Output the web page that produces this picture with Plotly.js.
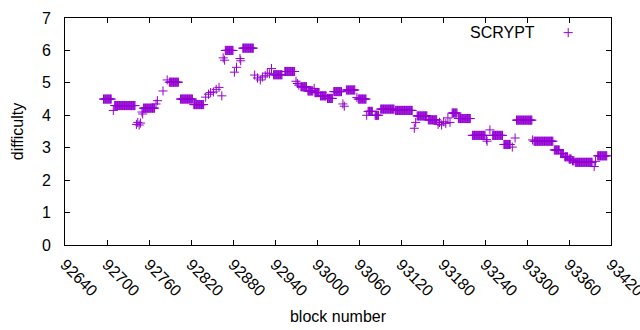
<!DOCTYPE html>
<html>
<head>
<meta charset="utf-8">
<script src="https://cdn.plot.ly/plotly-3.0.1.min.js"></script>
<style>html,body{margin:0;padding:0;background:#fff;}#chart{width:640px;height:330px;}</style>
</head>
<body>
<div id="chart"></div>
<script>
// Runs of constant difficulty: first block, last block, difficulty
var runStart = [92695,92711,92752,92789,92805,92824,92869,92894,92938,92954,92977,92987,92997,93005,93015,93024,93042,93059,93073,93083,93091,93112,93143,93159,93193,93202,93222,93251,93267,93285,93310,93339,93348,93354,93360,93365,93369,93401];
var runEnd   = [92706,92740,92768,92802,92822,92838,92880,92909,92950,92968,92985,92994,93003,93013,93022,93035,93054,93070,93079,93088,93110,93136,93157,93171,93200,93219,93240,93265,93276,93307,93337,93346,93352,93358,93363,93367,93393,93414];
var runDiff  = [4.50,4.30,4.22,5.02,4.50,4.33,6.00,6.07,5.25,5.35,4.88,4.75,4.70,4.60,4.52,4.73,4.78,4.50,4.12,4.00,4.19,4.15,3.98,3.86,4.07,3.90,3.38,3.38,3.10,3.85,3.20,2.93,2.82,2.72,2.65,2.60,2.55,2.75];
// Isolated blocks
var ptBlock = [92709,92742,92744,92746,92748,92750,92751,92770,92772,92780,92786,92841,92845,92848,92852,92856,92860,92864,92866,92868,92882,92885,92890,92891,92911,92915,92919,92922,92926,92929,92932,92935,92970,92972,92974,92996,93037,93039,93057,93071,93139,93141,93173,93175,93178,93181,93184,93187,93190,93242,93243,93247,93279,93283,93308,93396,93398];
var ptDiff  = [4.15,3.72,3.78,3.70,3.76,4.10,4.04,4.35,4.45,4.75,5.09,4.56,4.65,4.70,4.72,4.80,4.86,4.60,5.77,5.70,5.33,5.48,5.75,5.68,5.24,5.15,5.09,5.18,5.22,5.30,5.28,5.44,5.05,4.98,4.93,4.83,4.35,4.28,4.55,4.00,3.60,3.78,3.72,3.78,3.70,3.80,3.75,3.92,3.78,3.25,3.20,3.55,3.02,3.30,3.24,2.42,2.58];
var seriesName = "SCRYPT";
var xTitle = "block number";
var yTitle = "difficulty";

var pts = [];
for (var i = 0; i < runStart.length; i++) {
  for (var b = runStart[i]; b <= runEnd[i]; b++) pts.push([b, runDiff[i]]);
}
for (var j = 0; j < ptBlock.length; j++) pts.push([ptBlock[j], ptDiff[j]]);
pts.sort(function(a, c){ return a[0] - c[0]; });
var xs = pts.map(function(p){ return p[0]; });
var ys = pts.map(function(p){ return p[1]; });

var color = "#9400D3";
var font = {family: "Liberation Sans, Arial, sans-serif", size: 16, color: "#000"};

var trace = {
  x: xs, y: ys, type: "scatter", mode: "markers", name: " ",
  marker: {symbol: "cross-thin", size: 6.5, color: color, line: {color: color, width: 1}}
};

var layout = {
  width: 640, height: 330,
  margin: {l: 65, r: 29, t: 18, b: 85},
  paper_bgcolor: "#fff", plot_bgcolor: "#fff",
  font: font,
  showlegend: true,
  legend: {x: 0.885, y: 1.01, xanchor: "left", yanchor: "top", bgcolor: "rgba(0,0,0,0)", borderwidth: 0, font: font},
  annotations: [{text: seriesName, xref: "paper", yref: "paper", x: 0.865, y: 0.938, xanchor: "right", yanchor: "middle", showarrow: false, font: font}],
  xaxis: {
    range: [92640, 93420], tick0: 92640, dtick: 60, tickformat: "d",
    ticks: "inside", ticklen: 5, tickcolor: "#000", tickwidth: 1,
    showline: true, linecolor: "#000", linewidth: 1, mirror: "allticks",
    showgrid: false, zeroline: false, tickangle: 45, tickfont: font,
    ticklabeloverflow: "allow", ticklabelstandoff: 3,
    title: {text: xTitle, font: font, standoff: 12}
  },
  yaxis: {
    range: [0, 7], tick0: 0, dtick: 1,
    ticks: "inside", ticklen: 5, tickcolor: "#000", tickwidth: 1,
    showline: true, linecolor: "#000", linewidth: 1, mirror: "allticks",
    showgrid: false, zeroline: false, tickfont: font, ticklabelstandoff: 10,
    title: {text: yTitle, font: font, standoff: 14}
  }
};

Plotly.newPlot("chart", [trace], layout, {staticPlot: true, displayModeBar: false});
</script>
</body>
</html>
